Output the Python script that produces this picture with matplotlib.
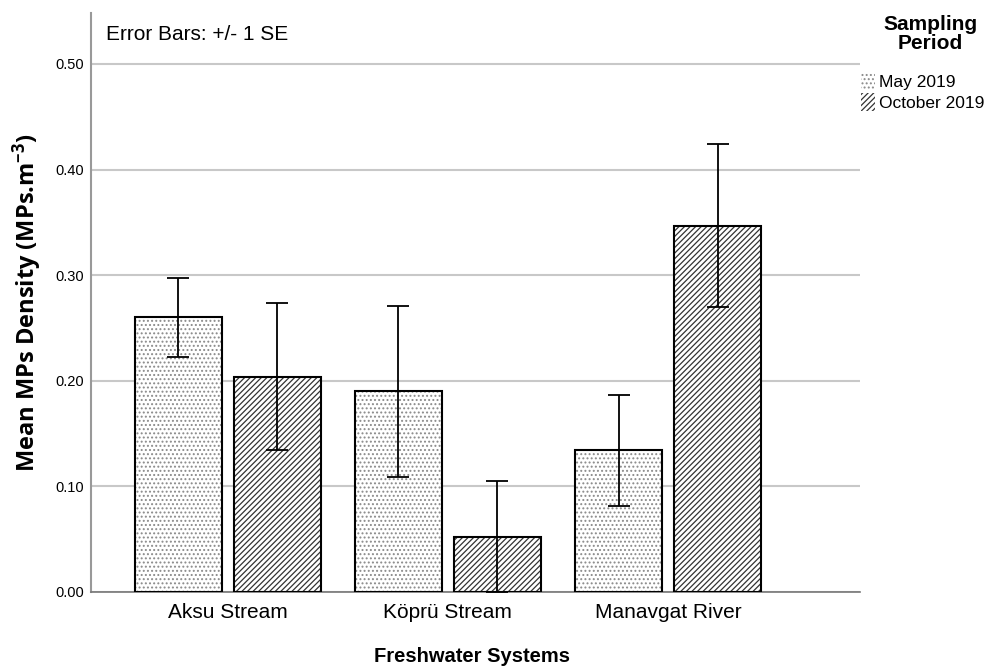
import numpy as np
import matplotlib
matplotlib.use("Agg")
import matplotlib.pyplot as plt

# dati (media +/- 1 SE)
systems = ["Aksu Stream", "Köprü Stream", "Manavgat River"]
periods = ["May 2019", "October 2019"]
may_mean = [0.260, 0.190, 0.134]
may_se = [0.037, 0.081, 0.053]
oct_mean = [0.204, 0.052, 0.347]
oct_se = [0.070, 0.053, 0.077]
yticks = [0.0, 0.1, 0.2, 0.3, 0.4, 0.5]

plt.rcParams['font.family'] = ['Liberation Sans', 'DejaVu Sans']
plt.rcParams['hatch.linewidth'] = 0.9
plt.rcParams['mathtext.fontset'] = 'custom'
plt.rcParams['mathtext.rm'] = 'Open Sans:bold'
plt.rcParams['mathtext.default'] = 'rm'

fig = plt.figure(figsize=(9.93, 6.69), dpi=100)
ax = fig.add_axes([0.0916, 0.1151, 0.7744, 0.8655])

x = np.arange(len(systems))
w = 0.395
off = 0.2245

# riempimento con tratteggio (punti grigi / diagonali), poi contorno nero
ax.bar(x - off, may_mean, width=w, facecolor='white', edgecolor='#8a8a8a',
       linewidth=0, hatch='....', zorder=3)
ax.bar(x + off, oct_mean, width=w, facecolor='white', edgecolor='#333333',
       linewidth=0, hatch='//////', zorder=3)
ax.bar(x - off, may_mean, width=w, fill=False, edgecolor='black',
       linewidth=1.5, zorder=3.5)
ax.bar(x + off, oct_mean, width=w, fill=False, edgecolor='black',
       linewidth=1.5, zorder=3.5)

err_kw = dict(ecolor='black', elinewidth=1.3, capsize=8, capthick=1.3)
ax.errorbar(x - off, may_mean, yerr=may_se, fmt='none', zorder=4, **err_kw)
ax.errorbar(x + off, oct_mean, yerr=oct_se, fmt='none', zorder=4, **err_kw)

ax.set_xlim(-0.62, 2.87)
ax.set_ylim(0, 0.5483)
ax.set_yticks(yticks)
ax.set_yticklabels([f"{v:.2f}" for v in yticks], fontsize=10.5)
ax.set_xticks(x)
ax.set_xticklabels(systems, fontsize=15)
ax.tick_params(axis='y', length=0, pad=5)
ax.tick_params(axis='x', length=0, pad=8)

ax.grid(axis='y', color='#c8c8c8', linewidth=1.5, zorder=0)
ax.set_axisbelow(True)
for s in ['top', 'right']:
    ax.spines[s].set_visible(False)
ax.spines['left'].set_color('#999999')
ax.spines['left'].set_linewidth(1.5)
ax.spines['bottom'].set_color('#777777')
ax.spines['bottom'].set_linewidth(1.2)

ax.set_ylabel("Mean MPs Density (MPs.m$^{-3}$)", fontsize=17,
              fontweight='bold', family=['Open Sans', 'DejaVu Sans'], labelpad=8)
fig.text(0.4755, (669 - 657) / 669, "Freshwater Systems", fontsize=14.5,
         fontweight='bold', ha='center', va='center')

ax.text(0.02, 0.98, "Error Bars: +/- 1 SE", transform=ax.transAxes,
        fontsize=15, va='top', ha='left')

# legenda: titolo separato, voci sotto
fig.text(930 / 993, 1 - 15 / 669, "Sampling\nPeriod", fontsize=15,
         fontweight='bold', ha='center', va='top', multialignment='center',
         linespacing=1.0)
may_h = plt.Rectangle((0, 0), 1, 1, facecolor='white', edgecolor='#8a8a8a',
                      linewidth=0, hatch='....')
oct_h = plt.Rectangle((0, 0), 1, 1, facecolor='white', edgecolor='#333333',
                      linewidth=0, hatch='//////')
leg = fig.legend([may_h, oct_h], periods, loc='upper left',
                 bbox_to_anchor=(861 / 993, 1 - 72 / 669), frameon=False,
                 fontsize=12.5, handlelength=0.8, handleheight=1.2,
                 handletextpad=0.25, labelspacing=0.2, borderaxespad=0.0,
                 borderpad=0.0)

fig.savefig("out.png", dpi=100)
